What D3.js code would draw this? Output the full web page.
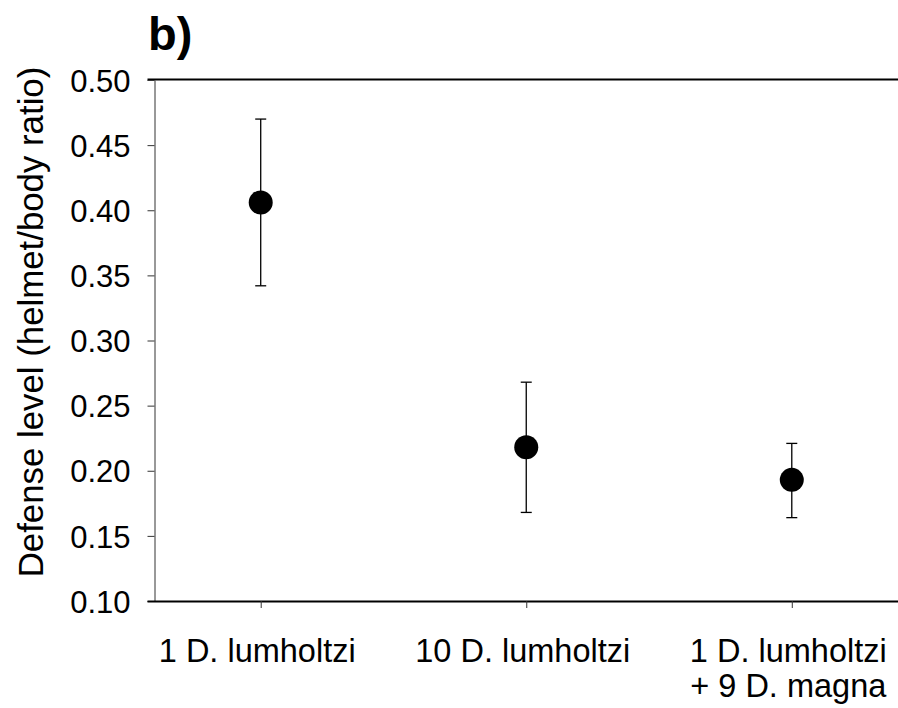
<!DOCTYPE html>
<html>
<head>
<meta charset="utf-8">
<script src="https://cdn.jsdelivr.net/npm/d3@7"></script>
<style>
  body { margin: 0; background: #fff; }
  svg, svg text { font-family: 'Liberation Sans', Arial, sans-serif; }
  svg { display: block; }
  .tick text { fill: #000; }
</style>
</head>
<body>
<div id="chart"></div>
<script>
// data
var groups = ['1 D. lumholtzi', '10 D. lumholtzi', '1 D. lumholtzi\n+ 9 D. magna'];
var means = [0.406, 0.218, 0.193];
var upper = [0.470, 0.268, 0.221];
var lower = [0.342, 0.168, 0.164];
var yTicks = [0.10, 0.15, 0.20, 0.25, 0.30, 0.35, 0.40, 0.45, 0.50];

var width = 898, height = 708;
var margin = { top: 80, right: 0, bottom: 107, left: 154.5 };

var svg = d3
  .select('#chart')
  .append('svg')
  .attr('width', width)
  .attr('height', height);

var x = d3
  .scalePoint()
  .domain(groups)
  .range([margin.left, width - margin.right])
  .padding(0.4);

var y = d3
  .scaleLinear()
  .domain([0.10, 0.50])
  .range([height - margin.bottom, margin.top]);

// frame line across the top at 0.50
svg
  .append('line')
  .attr('x1', margin.left - 7)
  .attr('x2', width)
  .attr('y1', y(0.5) - 0.5)
  .attr('y2', y(0.5) - 0.5)
  .attr('stroke', '#000')
  .attr('stroke-width', 2);

var yAxis = d3
  .axisLeft(y)
  .tickValues(yTicks)
  .tickFormat(d3.format('.2f'))
  .tickSizeInner(7)
  .tickSizeOuter(0)
  .tickPadding(17);

var gy = svg
  .append('g')
  .attr('transform', 'translate(' + margin.left + ',0)')
  .attr('font-family', null)
  .call(yAxis);
gy.attr('font-family', null);
gy.select('.domain').attr('stroke', '#333');
gy.selectAll('.tick line').attr('stroke', '#333');
gy.selectAll('.tick text').style('font-size', '31px').attr('dy', '0.36em');

var xAxis = d3
  .axisBottom(x)
  .tickSizeInner(7)
  .tickSizeOuter(0)
  .tickFormat('');

var gx = svg
  .append('g')
  .attr('transform', 'translate(0,' + y(0.1) + ')')
  .call(xAxis);
gx.attr('font-family', null);
gx.select('.domain')
  .attr('d', 'M' + (margin.left - 7) + ',0.5H' + width)
  .attr('stroke', '#000')
  .attr('stroke-width', 2);
gx.selectAll('.tick line').attr('stroke', '#333');

// multi-line category labels
gx.selectAll('.tick')
  .append('text')
  .attr('fill', '#000')
  .attr('text-anchor', 'middle')
  .style('font-size', '32.5px')
  .attr('y', 61)
  .each(function(d) {
    var t = d3.select(this);
    d.split('\n').forEach(function(line, i) {
      t.append('tspan')
        .attr('x', -4)
        .attr('dy', i === 0 ? 0 : 35)
        .text(line);
    });
  });

// y title
svg
  .append('text')
  .attr('transform', 'translate(43,' + 322 + ') rotate(-90)')
  .attr('text-anchor', 'middle')
  .style('font-size', '34.8px')
  .text('Defense level (helmet/body ratio)');

// panel letter
svg
  .append('text')
  .attr('x', 148)
  .attr('y', 50)
  .style('font-size', '47px')
  .style('font-weight', 'bold')
  .text('b)');

// error bars
var bars = svg
  .selectAll('.err')
  .data(groups)
  .enter()
  .append('g')
  .attr('class', 'err')
  .attr('stroke', '#000')
  .attr('stroke-width', 1.3);

bars
  .append('line')
  .attr('x1', function(d) { return x(d); })
  .attr('x2', function(d) { return x(d); })
  .attr('y1', function(d, i) { return y(upper[i]); })
  .attr('y2', function(d, i) { return y(lower[i]); });

bars
  .append('line')
  .attr('x1', function(d) { return x(d) - 5.5; })
  .attr('x2', function(d) { return x(d) + 5.5; })
  .attr('y1', function(d, i) { return y(upper[i]); })
  .attr('y2', function(d, i) { return y(upper[i]); });

bars
  .append('line')
  .attr('x1', function(d) { return x(d) - 5.5; })
  .attr('x2', function(d) { return x(d) + 5.5; })
  .attr('y1', function(d, i) { return y(lower[i]); })
  .attr('y2', function(d, i) { return y(lower[i]); });

svg
  .selectAll('circle')
  .data(groups)
  .enter()
  .append('circle')
  .attr('cx', function(d) { return x(d); })
  .attr('cy', function(d, i) { return y(means[i]); })
  .attr('r', 12)
  .attr('fill', '#000');
</script>
</body>
</html>
